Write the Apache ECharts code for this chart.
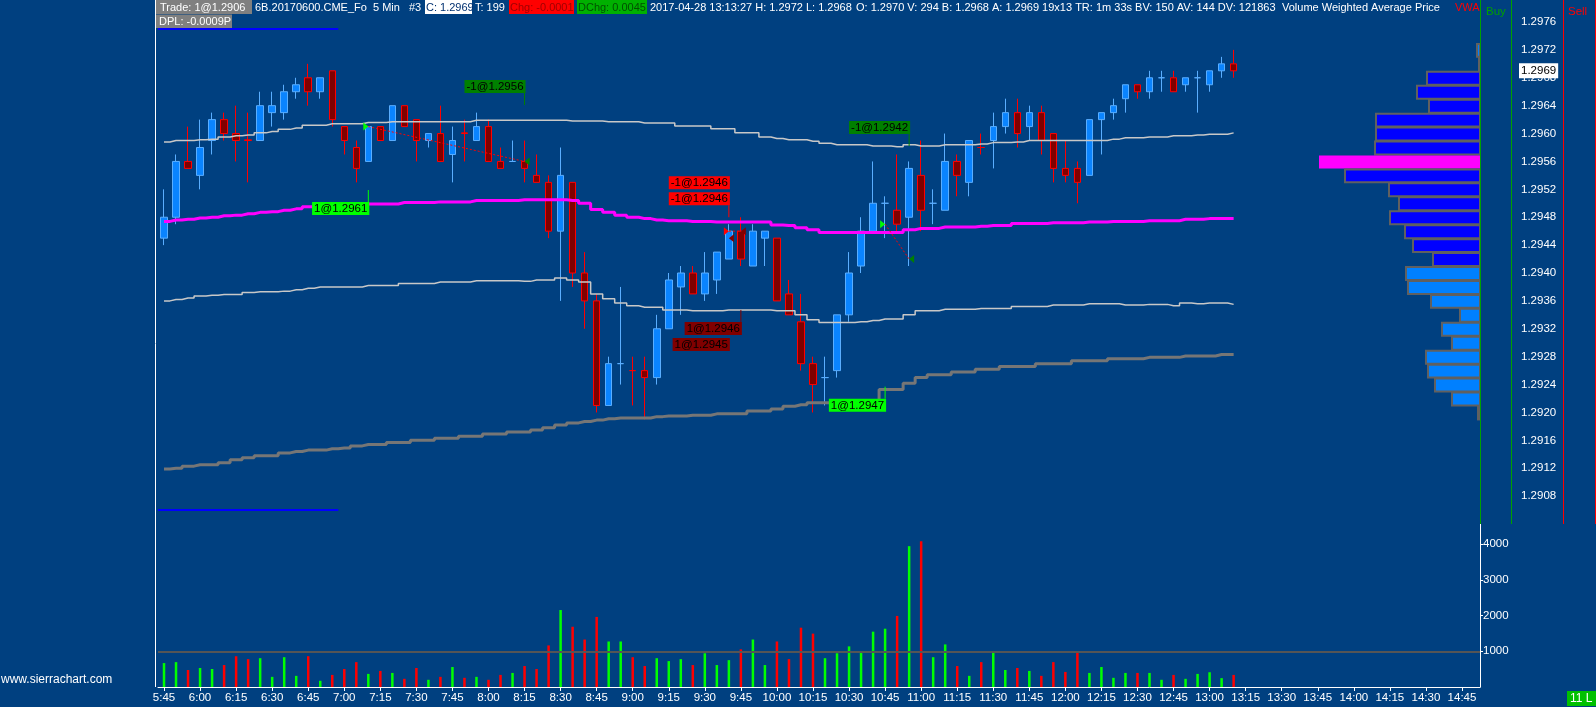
<!DOCTYPE html>
<html><head><meta charset="utf-8">
<script src="https://cdn.jsdelivr.net/npm/echarts@6/dist/echarts.min.js"></script>
<style>html,body{margin:0;padding:0;background:#004080;overflow:hidden}#c{width:1596px;height:707px}</style>
</head><body><div id="c"></div>
<script>
// ---------- DATA ----------
// 5-minute bar times (axis runs past the last bar, as in the reference)
const times = [];
for (let k = 0; k < 110; k++) { const m = 5 * 60 + 45 + 5 * k; times.push(Math.floor(m / 60) + ':' + String(m % 60).padStart(2, '0')); }

// candles: [open, close, low, high]
const ohlc = [
[1.2945,1.2948,1.2944,1.2952],[1.2948,1.2956,1.2947,1.2957],[1.2956,1.2955,1.2955,1.2961],[1.2954,1.2958,1.2952,1.2962],
[1.2959,1.2962,1.2957,1.2963],[1.2962,1.2960,1.2959,1.2963],[1.2960,1.2959,1.2956,1.2964],[1.29591,1.2959,1.2953,1.2963],
[1.2959,1.2964,1.2959,1.2966],[1.2963,1.2964,1.2961,1.2966],[1.2963,1.2966,1.2962,1.2967],[1.2966,1.2967,1.2965,1.2968],
[1.2968,1.2966,1.2964,1.2970],[1.2966,1.2968,1.2965,1.2968],[1.2969,1.2962,1.2961,1.2969],[1.2961,1.2959,1.2957,1.2961],
[1.2958,1.2955,1.2953,1.2959],[1.2956,1.2961,1.2956,1.2961],[1.2961,1.2959,1.2959,1.2961],[1.2959,1.2964,1.2959,1.2964],
[1.2964,1.2961,1.2961,1.2964],[1.2962,1.2959,1.2956,1.2962],[1.2959,1.2960,1.2958,1.2960],[1.2960,1.2956,1.2956,1.2964],
[1.2957,1.2959,1.2953,1.2961],[1.29601,1.2960,1.2956,1.2962],[1.2959,1.2961,1.2959,1.2963],[1.2961,1.2956,1.2956,1.2962],
[1.2956,1.2955,1.2955,1.2958],[1.2956,1.2956,1.2956,1.2959],[1.2956,1.2955,1.2953,1.2959],[1.2954,1.2953,1.2953,1.2957],
[1.2953,1.2946,1.2945,1.2954],[1.2946,1.2954,1.2936,1.2958],[1.2953,1.2940,1.2938,1.2953],[1.2940,1.2936,1.2932,1.2943],
[1.2936,1.2921,1.2920,1.2937],[1.2921,1.2927,1.2921,1.2928],[1.2927,1.2927,1.2924,1.2938],[1.2926,1.2926,1.2921,1.2928],
[1.2926,1.2925,1.2919,1.2928],[1.2925,1.2932,1.2924,1.2934],[1.2932,1.2939,1.2932,1.2940],[1.2938,1.2940,1.2934,1.2941],
[1.2940,1.2937,1.2937,1.2941],[1.2937,1.2940,1.2936,1.2943],[1.2939,1.2943,1.2937,1.2943],[1.2942,1.2946,1.2942,1.2947],
[1.2946,1.2942,1.2941,1.2948],[1.2941,1.2946,1.2941,1.2947],[1.2945,1.2946,1.2941,1.2946],[1.2945,1.2936,1.2936,1.2945],
[1.2937,1.2934,1.2934,1.2939],[1.2933,1.2927,1.2926,1.2937],[1.2927,1.2924,1.2920,1.2928],[1.2925,1.2925,1.2921,1.2928],
[1.2926,1.2934,1.2925,1.2934],[1.2934,1.2940,1.2933,1.2943],[1.2941,1.2946,1.2940,1.2948],[1.2946,1.2950,1.2946,1.2956],
[1.2950,1.2950,1.2945,1.2951],[1.2949,1.2947,1.2946,1.2957],[1.2948,1.2955,1.2941,1.2956],[1.2954,1.2949,1.2946,1.2959],
[1.2950,1.2950,1.2947,1.2952],[1.2949,1.2956,1.2949,1.2960],[1.2956,1.2954,1.2951,1.2957],[1.2953,1.2959,1.2951,1.2959],
[1.2958,1.2958,1.2957,1.2960],[1.2959,1.2961,1.2955,1.2963],[1.2961,1.2963,1.2960,1.2965],[1.2963,1.2960,1.2958,1.2965],
[1.2961,1.2963,1.2959,1.2964],[1.2963,1.2959,1.2957,1.2964],[1.2960,1.2955,1.2953,1.2960],[1.2955,1.2954,1.2953,1.2959],
[1.2955,1.2953,1.2950,1.2956],[1.2954,1.2962,1.2954,1.2962],[1.2962,1.2963,1.2957,1.2963],[1.2963,1.2964,1.2962,1.2965],
[1.2965,1.2967,1.2963,1.2967],[1.2967,1.2966,1.2965,1.2967],[1.2966,1.2968,1.2965,1.2969],[1.2968,1.2968,1.2966,1.2969],
[1.2968,1.2966,1.2966,1.2969],[1.2967,1.2968,1.2966,1.2968],[1.2968,1.2968,1.2963,1.2969],[1.2967,1.2969,1.2966,1.2969],
[1.2969,1.2970,1.2968,1.2971],[1.2970,1.2969,1.2968,1.2972]
];

const volumes = [670,697,477,532,505,615,862,780,807,284,835,312,862,174,339,505,697,367,450,394,
229,532,202,284,560,257,284,202,339,394,587,505,1165,2156,1688,1330,1963,1275,1275,835,
587,807,725,780,615,945,615,752,1055,1330,615,1275,780,1661,1495,807,945,1138,1000,1550,
1633,1991,3945,4083,835,1193,587,312,697,1000,477,532,450,312,697,422,1000,394,560,257,
394,394,394,202,339,229,367,413,248,339];

const vwap = [1.29474,1.29476,1.29477,1.29479,1.29480,1.29482,1.29483,1.29485,1.29487,1.29488,
1.29490,1.29492,1.29495,1.29497,1.29497,1.29497,1.29497,1.29499,1.29499,1.29499,
1.29501,1.29501,1.29501,1.29502,1.29502,1.29502,1.29504,1.29504,1.29504,1.29504,
1.29505,1.29505,1.29505,1.29505,1.29504,1.29500,1.29491,1.29487,1.29483,1.29480,
1.29478,1.29476,1.29475,1.29475,1.29474,1.29474,1.29473,1.29473,1.29473,1.29473,
1.29473,1.29469,1.29468,1.29465,1.29462,1.29458,1.29458,1.29458,1.29458,1.29458,
1.29458,1.29458,1.29462,1.29464,1.29464,1.29466,1.29466,1.29466,1.29467,1.29468,
1.29468,1.29471,1.29471,1.29471,1.29472,1.29472,1.29472,1.29473,1.29473,1.29474,
1.29474,1.29474,1.29475,1.29475,1.29475,1.29477,1.29477,1.29478,1.29478,1.29478];

const upperBand = [1.29588,1.29590,1.29590,1.29591,1.29592,1.29595,1.29597,1.29598,1.29601,1.29603,
1.29606,1.29608,1.29612,1.29612,1.29614,1.29614,1.29614,1.29616,1.29616,1.29617,
1.29617,1.29617,1.29617,1.29617,1.29617,1.29617,1.29619,1.29619,1.29619,1.29619,
1.29619,1.29619,1.29619,1.29619,1.29618,1.29618,1.29618,1.29617,1.29617,1.29617,
1.29615,1.29615,1.29615,1.29611,1.29611,1.29611,1.29607,1.29607,1.29601,1.29601,
1.29595,1.29593,1.29591,1.29591,1.29589,1.29586,1.29584,1.29584,1.29584,1.29582,
1.29582,1.29581,1.29584,1.29582,1.29582,1.29584,1.29584,1.29584,1.29585,1.29587,
1.29587,1.29588,1.29590,1.29590,1.29590,1.29590,1.29590,1.29590,1.29590,1.29592,
1.29594,1.29594,1.29595,1.29595,1.29597,1.29597,1.29598,1.29599,1.29599,1.29601];

const lowerBand = [1.29360,1.29362,1.29364,1.29367,1.29368,1.29369,1.29369,1.29372,1.29373,1.29373,
1.29374,1.29376,1.29378,1.29380,1.29380,1.29380,1.29380,1.29382,1.29382,1.29382,
1.29385,1.29385,1.29385,1.29387,1.29387,1.29387,1.29389,1.29389,1.29389,1.29389,
1.29388,1.29390,1.29390,1.29393,1.29390,1.29387,1.29370,1.29363,1.29357,1.29353,
1.29351,1.29351,1.29347,1.29347,1.29346,1.29346,1.29346,1.29347,1.29347,1.29347,
1.29347,1.29346,1.29346,1.29340,1.29333,1.29329,1.29329,1.29329,1.29330,1.29332,
1.29334,1.29334,1.29340,1.29346,1.29346,1.29348,1.29348,1.29348,1.29349,1.29349,
1.29349,1.29352,1.29352,1.29352,1.29354,1.29354,1.29354,1.29356,1.29356,1.29356,
1.29354,1.29354,1.29355,1.29355,1.29353,1.29357,1.29356,1.29357,1.29357,1.29355];

const trendLine = [1.29119,1.29120,1.29123,1.29125,1.29125,1.29128,1.29132,1.29135,1.29138,1.29138,
1.29142,1.29144,1.29146,1.29146,1.29148,1.29149,1.29152,1.29154,1.29154,1.29157,
1.29157,1.29160,1.29160,1.29163,1.29163,1.29166,1.29166,1.29169,1.29169,1.29172,
1.29172,1.29175,1.29178,1.29182,1.29185,1.29187,1.29189,1.29191,1.29192,1.29192,
1.29192,1.29194,1.29195,1.29195,1.29196,1.29196,1.29198,1.29198,1.29198,1.29202,
1.29202,1.29205,1.29209,1.29211,1.29214,1.29214,1.29215,1.29215,1.29215,1.29215,
1.29233,1.29233,1.29242,1.29250,1.29254,1.29254,1.29258,1.29258,1.29262,1.29262,
1.29266,1.29266,1.29266,1.29270,1.29270,1.29270,1.29274,1.29274,1.29274,1.29277,
1.29277,1.29277,1.29279,1.29279,1.29279,1.29281,1.29281,1.29281,1.29283,1.29283];

// short reference levels drawn over the first bars: [firstBar, lastBar, price]
const refLevels = [[0, 14, 1.2975], [0, 14, 1.2906]];

// volume at price profile
const profilePrices  = [1.2972,1.2970,1.2968,1.2966,1.2964,1.2962,1.2960,1.2958,1.2956,1.2954,1.2952,1.2950,1.2948,1.2946,
                        1.2944,1.2942,1.2940,1.2938,1.2936,1.2934,1.2932,1.2930,1.2928,1.2926,1.2924,1.2922,1.2920];
const profileVolumes = [3,1,53,63,51,104,104,105,161,135,91,81,90,75,67,47,74,72,49,20,38,28,54,52,45,28,2];
const pocPrice = 1.2956, valueAreaHigh = 1.2970, valueAreaLow = 1.2942;

// fills: [bar, price, kind]
const fills = [[17,1.2961,'buyEntry'],[30,1.2956,'sellExit'],[47,1.2946,'sellEntry'],[47,1.2945,'buyExit'],
               [48,1.2946,'buyExit'],[60,1.2947,'buyEntry'],[62,1.2942,'sellExit']];
// trade connectors: [entryBar, entryPrice, exitBar, exitPrice]
const tradePaths = [[17,1.2961,30,1.2956],[47,1.2946,48,1.2946],[60,1.2947,62,1.2942]];
// fill labels: bar, anchor price, text, kind, stack slot
const fillLabels = [
  {bar:17, anchor:1.29519, text:'1@1.2961',  kind:'buyEntry',  slot:0},
  {bar:30, anchor:1.29641, text:'-1@1.2956', kind:'sellExit',  slot:0},
  {bar:47, anchor:1.29480, text:'-1@1.2946', kind:'sellEntry', slot:0},
  {bar:47, anchor:1.29480, text:'-1@1.2946', kind:'sellEntry', slot:1},
  {bar:48, anchor:1.29347, text:'1@1.2946',  kind:'buyExit',   slot:0},
  {bar:47, anchor:1.29347, text:'1@1.2945',  kind:'buyExit',   slot:1},
  {bar:62, anchor:1.29582, text:'-1@1.2942', kind:'sellExit',  slot:0},
  {bar:60, anchor:1.29237, text:'1@1.2947',  kind:'buyEntry',  slot:0}
];

// ---------- CHART ----------
const SANS = "'Liberation Sans',Arial,sans-serif";
const fillColor = {buyEntry:'#00ff00', sellExit:'#008000', sellEntry:'#ff0000', buyExit:'#800000'};
const lastClose = ohlc[ohlc.length - 1][1];

function sign(i) {
  const o = ohlc[i][0], c = ohlc[i][1];
  if (c > o) return 1; if (c < o) return -1;
  return i > 0 ? (ohlc[i - 1][1] <= c ? 1 : -1) : 1;
}

const chart = echarts.init(document.getElementById('c'), null, {renderer: 'canvas'});

const stepLine = (data, color, width) => ({
  type: 'line', xAxisIndex: 0, yAxisIndex: 0, data: data, step: 'middle', symbol: 'none',
  lineStyle: {color: color, width: width}, z: 4, silent: true
});

function hdrText(x, y, text, fill, font) {
  return {type: 'text', x: x, y: y, style: {text: text, fill: fill || '#fff', font: font || ('11px ' + SANS), verticalAlign: 'middle'}, z: 20};
}
function hdrRect(x1, y1, x2, y2, fill) {
  return {type: 'rect', shape: {x: x1, y: y1, width: x2 - x1, height: y2 - y1}, style: {fill: fill}, z: 19};
}
function vline(x, y1, y2, color) {
  return {type: 'line', shape: {x1: x, y1: y1, x2: x, y2: y2}, style: {stroke: color, lineWidth: 1}, z: 19};
}

const option = {
  backgroundColor: '#004080',
  animation: false,
  grid: [
    {left: 158, right: 116, top: 22, height: 502},
    {left: 158, right: 116, top: 524, height: 163},
    {left: 1300, right: 116, top: 22, height: 502}
  ],
  xAxis: [
    {type: 'category', data: times, gridIndex: 0, show: false},
    {type: 'category', data: times, gridIndex: 1,
     axisLine: {lineStyle: {color: '#ffffff', width: 1}},
     axisTick: {show: true, alignWithLabel: true, interval: (i) => i % 3 === 0, length: 4, lineStyle: {color: '#ffffff'}},
     axisLabel: {interval: (i) => i % 3 === 0, color: '#ffffff', fontFamily: SANS, fontSize: 11.5, margin: 5},
     splitLine: {show: false}},
    {type: 'value', gridIndex: 2, min: 0, max: 180, inverse: true, show: false}
  ],
  yAxis: [
    {type: 'value', gridIndex: 0, position: 'right', min: 1.2904, max: 1.2976, interval: 0.0004, scale: true,
     axisLine: {show: false}, axisTick: {show: false}, splitLine: {show: false},
     axisLabel: {color: '#ffffff', fontFamily: SANS, fontSize: 11.5, margin: 41, showMinLabel: false, formatter: (v) => v.toFixed(4)}},
    {type: 'value', gridIndex: 1, position: 'right', min: 0, max: 4566, interval: 1000,
     axisLine: {show: true, lineStyle: {color: '#ffffff'}}, axisTick: {show: true, length: 3, lineStyle: {color: '#ffffff'}},
     splitLine: {show: false},
     axisLabel: {color: '#ffffff', fontFamily: SANS, fontSize: 11.5, margin: 3, showMinLabel: false, showMaxLabel: false, formatter: (v) => String(v)}},
    {type: 'value', gridIndex: 2, min: 1.2904, max: 1.2976, show: false}
  ],
  series: [
    {type: 'candlestick', xAxisIndex: 0, yAxisIndex: 0, data: ohlc, barWidth: 7, z: 3,
     itemStyle: {color: '#0a84ff', color0: '#800000', borderColor: '#5aaeff', borderColor0: '#ff0000', borderWidth: 1}},
    stepLine(upperBand, '#c8c8c8', 1.5),
    stepLine(lowerBand, '#c8c8c8', 1.5),
    stepLine(trendLine, '#767676', 3),
    stepLine(vwap, '#ff00ff', 3),
    {type: 'custom', xAxisIndex: 0, yAxisIndex: 0, z: 4, silent: true,
     data: refLevels.map(r => [r[0], r[2]]),
     renderItem: (params, api) => {
       const r = refLevels[params.dataIndex];
       const half = api.size([1, 0])[0] / 2;
       const a = api.coord([r[0], r[2]]), b = api.coord([r[1], r[2]]);
       return {type: 'line', shape: {x1: a[0] - half, y1: a[1], x2: b[0] + half, y2: b[1]}, style: {stroke: '#0000ff', lineWidth: 2}};
     }},
    {type: 'custom', xAxisIndex: 0, yAxisIndex: 0, z: 6, silent: true,
     data: tradePaths.map(t => [t[0], t[1]]),
     renderItem: (params, api) => {
       const t = tradePaths[params.dataIndex];
       const a = api.coord([t[0], t[1]]), b = api.coord([t[2], t[3]]);
       return {type: 'line', shape: {x1: a[0], y1: a[1], x2: b[0], y2: b[1]}, style: {stroke: '#ff0000', lineWidth: 1, lineDash: [2, 2]}};
     }},
    {type: 'custom', xAxisIndex: 0, yAxisIndex: 0, z: 7, silent: true,
     data: fills.map(f => [f[0], f[1]]),
     renderItem: (params, api) => {
       const f = fills[params.dataIndex];
       const p = api.coord([f[0], f[1]]);
       const entry = f[2].endsWith('Entry');
       const d = entry ? -5 : 5;
       return {type: 'polygon', shape: {points: [[p[0] + d, p[1] - 4], [p[0], p[1]], [p[0] + d, p[1] + 4]]}, style: {fill: fillColor[f[2]]}};
     }},
    {type: 'custom', xAxisIndex: 0, yAxisIndex: 0, z: 8, silent: true,
     data: fillLabels.map(l => [l.bar, l.anchor]),
     renderItem: (params, api) => {
       const l = fillLabels[params.dataIndex];
       const p = api.coord([l.bar, l.anchor]);
       const below = l.kind.startsWith('buy');
       const stem = 12, boxH = 13, gap = 3;
       const col = fillColor[l.kind];
       const children = [];
       const top = below ? p[1] + stem + l.slot * (boxH + gap) : p[1] - stem - boxH - l.slot * (boxH + gap);
       if (l.slot === 0) children.push({type: 'line', shape: {x1: p[0], y1: p[1], x2: p[0], y2: below ? p[1] + stem : p[1] - stem}, style: {stroke: col, lineWidth: 1}});
       children.push({type: 'text', x: p[0] + 1, y: top,
         style: {text: l.text, align: 'right', verticalAlign: 'top', fill: '#000000', font: '11.5px ' + SANS,
                 backgroundColor: col, padding: [1, 2, 0, 2], lineHeight: 12}});
       return {type: 'group', children: children};
     }},
    // last price tag on the price scale
    {type: 'custom', xAxisIndex: 0, yAxisIndex: 0, z: 9, silent: true, clip: false,
     data: [[ohlc.length - 1, lastClose]],
     renderItem: (params, api) => {
       const p = api.coord([api.value(0), api.value(1)]);
       const cs = params.coordSys;
       return {type: 'text', x: cs.x + cs.width + 39, y: p[1],
               style: {text: lastClose.toFixed(4), fill: '#000000', font: '11.5px ' + SANS, backgroundColor: '#ffffff',
                       padding: [2, 2, 1, 2], verticalAlign: 'middle', align: 'left'}};
     }},
    {type: 'bar', xAxisIndex: 1, yAxisIndex: 1, data: volumes, barWidth: 2.5, silent: true,
     itemStyle: {color: (p) => sign(p.dataIndex) > 0 ? '#00ff00' : '#ff0000'},
     markLine: {silent: true, symbol: 'none', label: {show: false}, lineStyle: {color: '#555555', width: 2, type: 'solid'}, data: [{yAxis: 1000}]}},
    {type: 'custom', xAxisIndex: 2, yAxisIndex: 2, z: 3, silent: true,
     data: profilePrices.map((p, k) => [profileVolumes[k], p]),
     renderItem: (params, api) => {
       const v = api.value(0), p = api.value(1);
       const a = api.coord([v, p + 0.0001]), b = api.coord([0, p - 0.0001]);
       const poc = Math.abs(p - pocPrice) < 1e-7;
       const inVA = p >= valueAreaLow - 1e-7 && p <= valueAreaHigh + 1e-7;
       const fill = poc ? '#ff00ff' : (inVA ? '#0000ff' : '#0080ff');
       return {type: 'rect', shape: {x: a[0], y: a[1] + 1, width: b[0] - a[0], height: b[1] - a[1] - 1},
               style: poc ? {fill: fill} : {fill: fill, stroke: '#606060', lineWidth: 2}};
     }}
  ],
  graphic: [
    vline(155.5, 0, 687, '#ffffff'),
    vline(1480.5, 0, 524, '#00a000'),
    vline(1511.5, 0, 524, '#00a000'),
    vline(1563.5, 0, 524, '#ff0000'),
    vline(1595.5, 0, 524, '#ff0000'),
    hdrRect(156, 0, 252, 14, '#808080'),
    hdrText(160, 7.5, 'Trade: 1@1.2906'),
    hdrText(255, 7.5, '6B.20170600.CME_Fo  5 Min'),
    hdrText(409, 7.5, '#3'),
    hdrRect(425, 0, 472, 14, '#ffffff'),
    hdrText(426, 7.5, 'C: 1.2969', '#003070'),
    hdrText(475, 7.5, 'T: 199'),
    hdrRect(509, 0, 574, 14, '#ff0000'),
    hdrText(510, 7.5, 'Chg: -0.0001', '#a00000'),
    hdrRect(577, 0, 647, 14, '#00b000'),
    hdrText(578, 7.5, 'DChg: 0.0045', '#005000'),
    hdrText(650, 7.5, '2017-04-28 13:13:27 H: 1.2972 L: 1.2968'),
    hdrText(856, 7.5, 'O: 1.2970 V: 294 B: 1.2968 A: 1.2969 19x13 TR: 1m 33s BV: 150 AV: 144 DV: 121863'),
    hdrText(1282, 7.5, 'Volume Weighted Average Price'),
    hdrText(1455, 7.5, 'VWA', '#ff0000'),
    hdrText(1486, 12, 'Buy', '#00a000', '11.5px ' + SANS),
    hdrText(1568, 12, 'Sell', '#ff0000', '11.5px ' + SANS),
    hdrRect(156, 14.5, 232, 28, '#808080'),
    hdrText(159, 21.5, 'DPL: -0.0009P'),
    hdrText(1, 680, 'www.sierrachart.com', '#ffffff', '12px ' + SANS),
    hdrRect(1567, 691, 1596, 706, '#00c000'),
    hdrText(1570, 698.5, '11 L', '#ffffff', '12px ' + SANS)
  ]
};
chart.setOption(option);
</script>
</body></html>
